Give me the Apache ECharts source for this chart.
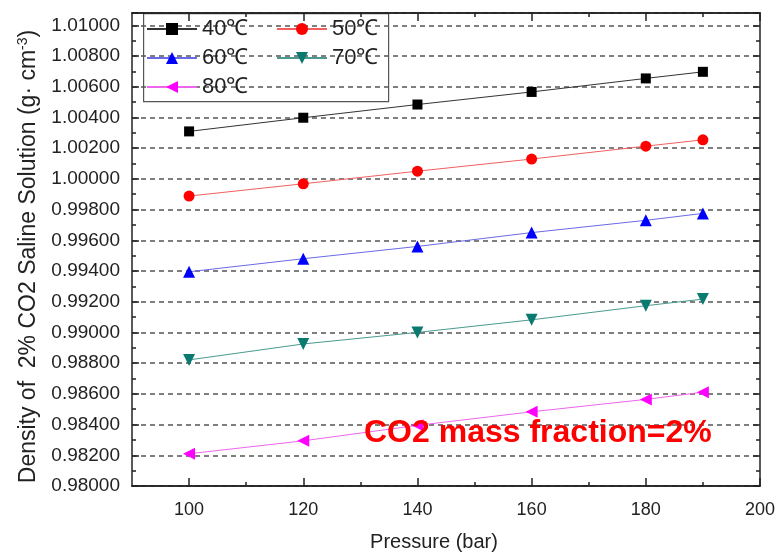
<!DOCTYPE html>
<html>
<head>
<meta charset="utf-8">
<script src="https://cdn.jsdelivr.net/npm/echarts@6/dist/echarts.min.js"></script>
<style>html,body{margin:0;padding:0;background:#fff}#c{width:778px;height:557px}</style>
</head>
<body>
<div id="c"></div>
<script>
var pressure = [100, 120, 140, 160, 180, 190];
var d40 = [1.00309, 1.00398, 1.00484, 1.00566, 1.00654, 1.00697];
var d50 = [0.99888, 0.99968, 1.00050, 1.00129, 1.00213, 1.00254];
var d60 = [0.99395, 0.99480, 0.99560, 0.99650, 0.99730, 0.99775];
var d70 = [0.98821, 0.98925, 0.99000, 0.99082, 0.99174, 0.99217];
var d80 = [0.98210, 0.98294, 0.98395, 0.98483, 0.98564, 0.98611];
var seriesNames = ['40℃', '50℃', '60℃', '70℃', '80℃'];
var xMajorTicks = [100, 120, 140, 160, 180, 200];
var xMinorTicks = [110, 130, 150, 170, 190];

function pairs(ys) { return pressure.map(function (p, i) { return [p, ys[i]]; }); }

var FONT = 'Liberation Sans, Arial, sans-serif';
var GRID = { left: 132, right: 18, top: 13, bottom: 67 };
var XMIN = 90, XMAX = 200, YMIN = 0.98, YMAX = 1.0108;

function xAx(pos, values, len, labels, extra) {
  var a = {
    type: 'value', position: pos, min: XMIN, max: XMAX,
    axisLine: { show: true, onZero: false, lineStyle: { color: '#222', width: 1.5 } },
    axisTick: { show: true, inside: true, length: len, customValues: values, lineStyle: { color: '#222', width: 1.5 } },
    axisLabel: labels ? { show: true, customValues: values, fontFamily: FONT, fontSize: 18, color: '#222', margin: 15 } : { show: false },
    splitLine: { show: false }
  };
  for (var k in extra) a[k] = extra[k];
  return a;
}

var legendText = { fontFamily: FONT, fontSize: 22, color: '#222' };

var option = {
  animation: false,
  backgroundColor: '#fff',
  grid: GRID,
  xAxis: [
    xAx('bottom', xMajorTicks, 8, true, {
      name: 'Pressure (bar)', nameLocation: 'middle', nameGap: 46,
      nameTextStyle: { fontFamily: FONT, fontSize: 20, color: '#222', padding: [0, 24, 0, 0] }
    }),
    xAx('bottom', xMinorTicks, 4, false, {}),
    xAx('top', xMajorTicks, 8, false, {}),
    xAx('top', xMinorTicks, 4, false, {})
  ],
  yAxis: [
    {
      type: 'value', position: 'left', min: YMIN, max: YMAX, interval: 0.002,
      name: 'Density of  2% CO2 Saline Solution (g· cm{sup|-3})',
      nameLocation: 'middle', nameGap: 90,
      nameTextStyle: { fontFamily: FONT, fontSize: 23, color: '#222', padding: [0, 14, 0, 0],
        rich: { sup: { fontFamily: FONT, fontSize: 14, color: '#222', padding: [0, 0, 12, 0] } } },
      axisLine: { show: true, lineStyle: { color: '#222', width: 1.5 } },
      axisTick: { show: true, inside: true, length: 7, lineStyle: { color: '#222', width: 1.5 } },
      minorTick: { show: true, splitNumber: 2, length: 4, lineStyle: { color: '#222', width: 1.5 } },
      axisLabel: { fontFamily: FONT, fontSize: 19, color: '#222', margin: 12, showMaxLabel: false,
        formatter: function (v) { return v.toFixed(5); } },
      splitLine: { show: true, lineStyle: { color: '#555', type: [5, 4], width: 1.5 } }
    },
    {
      type: 'value', position: 'right', min: YMIN, max: YMAX, interval: 0.002,
      axisLine: { show: true, lineStyle: { color: '#222', width: 1.5 } },
      axisTick: { show: true, inside: true, length: 7, lineStyle: { color: '#222', width: 1.5 } },
      minorTick: { show: true, splitNumber: 2, length: 4, lineStyle: { color: '#222', width: 1.5 } },
      axisLabel: { show: false },
      splitLine: { show: false }
    }
  ],
  legend: [
    {
      orient: 'vertical', left: 141, top: 13, itemWidth: 50, itemHeight: 15, itemGap: 7,
      data: ['40℃', '60℃', '80℃'], textStyle: legendText
    },
    {
      orient: 'vertical', left: 271, top: 13, itemWidth: 50, itemHeight: 15, itemGap: 7,
      data: ['50℃', '70℃'], textStyle: legendText
    }
  ],
  graphic: [
    { type: 'rect', left: 143, top: 13, z: 0, shape: { width: 245, height: 88 },
      style: { fill: '#fff', stroke: '#555', lineWidth: 1.2 } },
    { type: 'text', left: 364, top: 417, z: 10,
      style: { text: 'CO2 mass fraction=2%', fill: '#ff0000', font: 'bold 32px Liberation Sans, Arial, sans-serif' } }
  ],
  series: [
    { name: seriesNames[0], type: 'line', data: pairs(d40), symbol: 'rect', symbolSize: 10,
      itemStyle: { color: '#000' }, lineStyle: { color: '#333', width: 1 }, z: 5 },
    { name: seriesNames[1], type: 'line', data: pairs(d50), symbol: 'circle', symbolSize: 11,
      itemStyle: { color: '#ff0000' }, lineStyle: { color: '#f06060', width: 1 }, z: 5 },
    { name: seriesNames[2], type: 'line', data: pairs(d60), symbol: 'triangle', symbolSize: 12,
      itemStyle: { color: '#0000ff' }, lineStyle: { color: '#6a6ae8', width: 1 }, z: 5 },
    { name: seriesNames[3], type: 'line', data: pairs(d70), symbol: 'triangle', symbolSize: 12, symbolRotate: 180,
      itemStyle: { color: '#0a7a70' }, lineStyle: { color: '#4a9a90', width: 1 }, z: 5 },
    { name: seriesNames[4], type: 'line', data: pairs(d80), symbol: 'triangle', symbolSize: 12, symbolRotate: 90,
      itemStyle: { color: '#ff00ff' }, lineStyle: { color: '#ee66ee', width: 1 }, z: 5 }
  ]
};

var chart = echarts.init(document.getElementById('c'), null, { renderer: 'canvas' });
chart.setOption(option);
</script>
</body>
</html>
